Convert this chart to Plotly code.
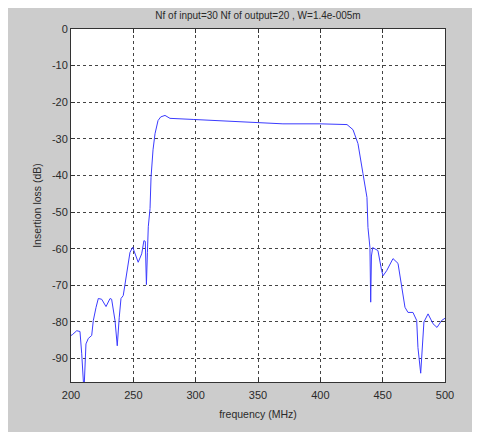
import plotly.graph_objects as go

freq = [200, 201, 204.6, 207.2, 208.6, 210.4, 212, 213.9, 216.6, 217.9, 220.1, 221.9,
        224.6, 228.1, 231.3, 232.6, 235.3, 237.1, 238.7, 240.1, 241.9, 243.3, 246,
        247.3, 249.5, 251.3, 253.9, 256.7, 258.5, 259.6, 260.5, 261.3, 262, 263.4,
        264.2, 265.8, 267.4, 269.8, 272, 275.4, 279.4, 298, 330, 351.6, 370, 399.7,
        421.4, 426.2, 430.2, 434.2, 437.4, 438.2, 439.8, 440.4, 441.0, 442.0, 443.8,
        446.2, 449.2, 450.3, 453.2, 458.3, 462.3, 465.2, 467.9, 470.3, 474.3, 477.3,
        478.3, 480.5, 482.1, 483.1, 486.4, 490.4, 493.6, 497.3, 500]
loss = [-83.7, -83.5, -82.4, -82.6, -88.7, -99, -86, -84.5, -83.7, -79.6, -76, -73.6,
        -73.8, -75.8, -73.6, -73.8, -79.6, -86.5, -78.7, -73.6, -72.8, -69.5, -63.7,
        -61, -59.6, -61.4, -63.7, -61.4, -57.8, -58, -69.8, -61, -54, -49,
        -40.5, -33, -28.6, -25, -24, -23.6, -24.4, -24.7, -25.2, -25.5, -25.9, -25.9,
        -26.1, -27.5, -31.3, -39.5, -46, -54.2, -59.7, -74.6, -62, -59.7, -60,
        -60.5, -66, -67.4, -66, -62.7, -64, -70.5, -76, -77.4, -77.4, -79.6,
        -87, -94, -87, -80, -77.8, -80.5, -81.5, -79.6, -79]

x_ticks = [200, 250, 300, 350, 400, 450, 500]
y_ticks = [0, -10, -20, -30, -40, -50, -60, -70, -80, -90]

title_text = "Nf of input=30 Nf of output=20 , W=1.4e-005m"
x_label = "frequency (MHz)"
y_label = "Insertion loss (dB)"

FAM = "Liberation Sans, Arial, sans-serif"
TXT = "#2a2a2a"

fig = go.Figure()
fig.add_trace(go.Scatter(x=freq, y=loss, mode="lines",
                         line=dict(color="#3b3bff", width=1), showlegend=False))

axis_common = dict(showline=True, linecolor="#333333", linewidth=1, mirror="allticks",
                   ticks="inside", ticklen=4, tickcolor="#333333",
                   showgrid=True, gridcolor="#444444", griddash="dot", gridwidth=1,
                   zeroline=False, tickfont=dict(family=FAM, size=11, color=TXT))

W, H = 472, 429
L, R, T, B = 63, 35, 21, 55
PH = H - T - B

fig.update_layout(
    width=W, height=H,
    margin=dict(l=L, r=R, t=T, b=B),
    paper_bgcolor="#cccccc", plot_bgcolor="white",
    title=dict(text=title_text, x=(L + (W - L - R) / 2) / W, xanchor="center",
               y=1 - 7 / H, yanchor="middle", font=dict(family=FAM, size=10, color=TXT)),
    xaxis=dict(range=[200, 500], tickvals=x_ticks, ticktext=[str(v) for v in x_ticks],
               ticklabelstandoff=3,
               title=dict(text=x_label, font=dict(family=FAM, size=10.5, color=TXT), standoff=10),
               **axis_common),
    yaxis=dict(range=[-96.4, 0], tickvals=y_ticks, ticktext=[str(v) for v in y_ticks],
               title=dict(text=y_label, font=dict(family=FAM, size=10.5, color=TXT), standoff=8),
               **axis_common),
    shapes=[
        dict(type="rect", xref="paper", yref="paper", x0=-0.3, x1=1.3,
             y0=-0.3, y1=-(424 - (T + PH)) / PH, fillcolor="white",
             line=dict(width=0), layer="below"),
    ],
)

fig.write_html("out.html")
